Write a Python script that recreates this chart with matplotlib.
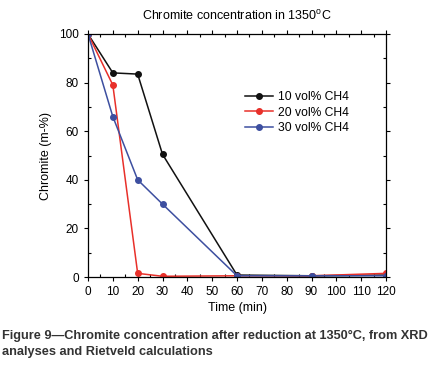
import matplotlib.pyplot as plt
from matplotlib.ticker import MultipleLocator

plt.rcParams['font.family'] = ['Liberation Sans', 'DejaVu Sans']

time = [0, 10, 20, 30, 60, 90, 120]
ch4_10 = [100, 84, 83.5, 50.5, 0.8, 0.5, 0.8]
ch4_20 = [100, 79, 1.5, 0.3, 0.5, 0.5, 1.5]
ch4_30 = [100, 66, 40, 30, 0.5, 0.5, 0.5]
labels = ["10 vol% CH4", "20 vol% CH4", "30 vol% CH4"]
colors = ["#111111", "#e8302a", "#3d4fa0"]

fig = plt.figure(figsize=(4.32, 3.69), dpi=100)
ax = fig.add_axes([88/432, 1-277/369, 298/432, 243/369])

for y, lab, c in zip([ch4_10, ch4_20, ch4_30], labels, colors):
    ax.plot(time, y, color=c, lw=1.1, marker='o', ms=4, label=lab)

ax.set_xlim(0, 120)
ax.set_ylim(0, 100)
ax.xaxis.set_major_locator(MultipleLocator(10))
ax.xaxis.set_minor_locator(MultipleLocator(5))
ax.yaxis.set_major_locator(MultipleLocator(20))
ax.yaxis.set_minor_locator(MultipleLocator(10))
ax.tick_params(which='both', top=True, right=True, labelsize=8.5, width=0.8)
ax.tick_params(which='major', length=3, direction='out')
ax.tick_params(which='minor', length=2, direction='in')
for s in ax.spines.values():
    s.set_linewidth(0.9)

ax.set_xlabel("Time (min)", fontsize=9, labelpad=3)
ax.set_ylabel("Chromite (m-%)", fontsize=9, labelpad=5)
ax.set_title("Chromite concentration in 1350$^\\mathregular{o}$C", fontsize=9, pad=10)

ax.legend(loc='upper left', bbox_to_anchor=(0.50, 0.80), frameon=False,
          fontsize=8.7, handlelength=2.3, handletextpad=0.4, labelspacing=0.3, borderpad=0.2)

fig.text(0.005, 1-330/369, "Figure 9\u2014Chromite concentration after reduction at 1350\u00b0C, from XRD\nanalyses and Rietveld calculations",
         fontsize=9.2, fontweight='bold', color='#333333', va='top', linespacing=1.45)

fig.savefig("out.png", dpi=100)
